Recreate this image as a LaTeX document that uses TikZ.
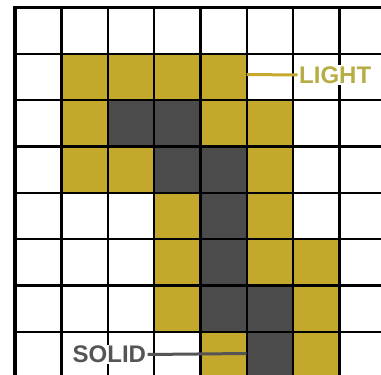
\documentclass[tikz,border=0pt]{standalone}
\usepackage{fontspec}
\setmainfont{Liberation Sans}
\definecolor{gold}{HTML}{C4A82B}
\definecolor{darkcell}{HTML}{4B4B4B}
\definecolor{lighttext}{HTML}{B7AD45}
\definecolor{solidgray}{HTML}{555555}
\tikzset{
  goldcell/.style={fill=gold},
  darkc/.style={fill=darkcell},
  gridline/.style={line width=2.3pt, black},
  borderline/.style={line width=3.6pt, black},
  lbl/.style={font=\fontsize{24}{24}\selectfont\bfseries, fill=white, inner sep=1.5pt, anchor=west},
}
\begin{document}
\begin{tikzpicture}[x=1pt,y=-1pt]
\useasboundingbox (0,0) rectangle (381,375);
\clip (0,0) rectangle (381,375);
\fill[white] (0,0) rectangle (381,375);
\def\cs{46.35}
\def\ox{15}
\def\oy{7.3}
% gold cells
\foreach \c/\r in {1/1,2/1,3/1,4/1, 1/2,4/2,5/2, 1/3,2/3,5/3, 3/4,5/4, 3/5,5/5,6/5, 3/6,6/6, 4/7,6/7}
  \fill[goldcell] ({\ox+\cs*\c},{\oy+\cs*\r}) rectangle +(\cs,\cs);
% dark cells
\foreach \c/\r in {2/2,3/2, 3/3,4/3, 4/4, 4/5, 4/6,5/6, 5/7}
  \fill[darkc] ({\ox+\cs*\c},{\oy+\cs*\r}) rectangle +(\cs,\cs);
% grid
\foreach \i in {1,...,8}
  \draw[gridline] ({\ox+\cs*\i},\oy) -- ({\ox+\cs*\i},390);
\foreach \j in {1,...,8}
  \draw[gridline] (\ox,{\oy+\cs*\j}) -- (395,{\oy+\cs*\j});
\draw[borderline] (\ox,390) -- (\ox,\oy) -- (395,\oy);
% labels
\node[lbl, text=lighttext] (light) at (297.5,75) {LIGHT};
\node[lbl, text=solidgray] (solid) at (71,354.5) {SOLID};
\coordinate (lightend) at (246.7,74.5);
\coordinate (solidend) at (246.7,353.5);
\draw[gold, line width=3pt] (lightend) -- (light.west);
\draw[solidgray, line width=3pt] (solid.east) -- (solidend);
\end{tikzpicture}
\end{document}
